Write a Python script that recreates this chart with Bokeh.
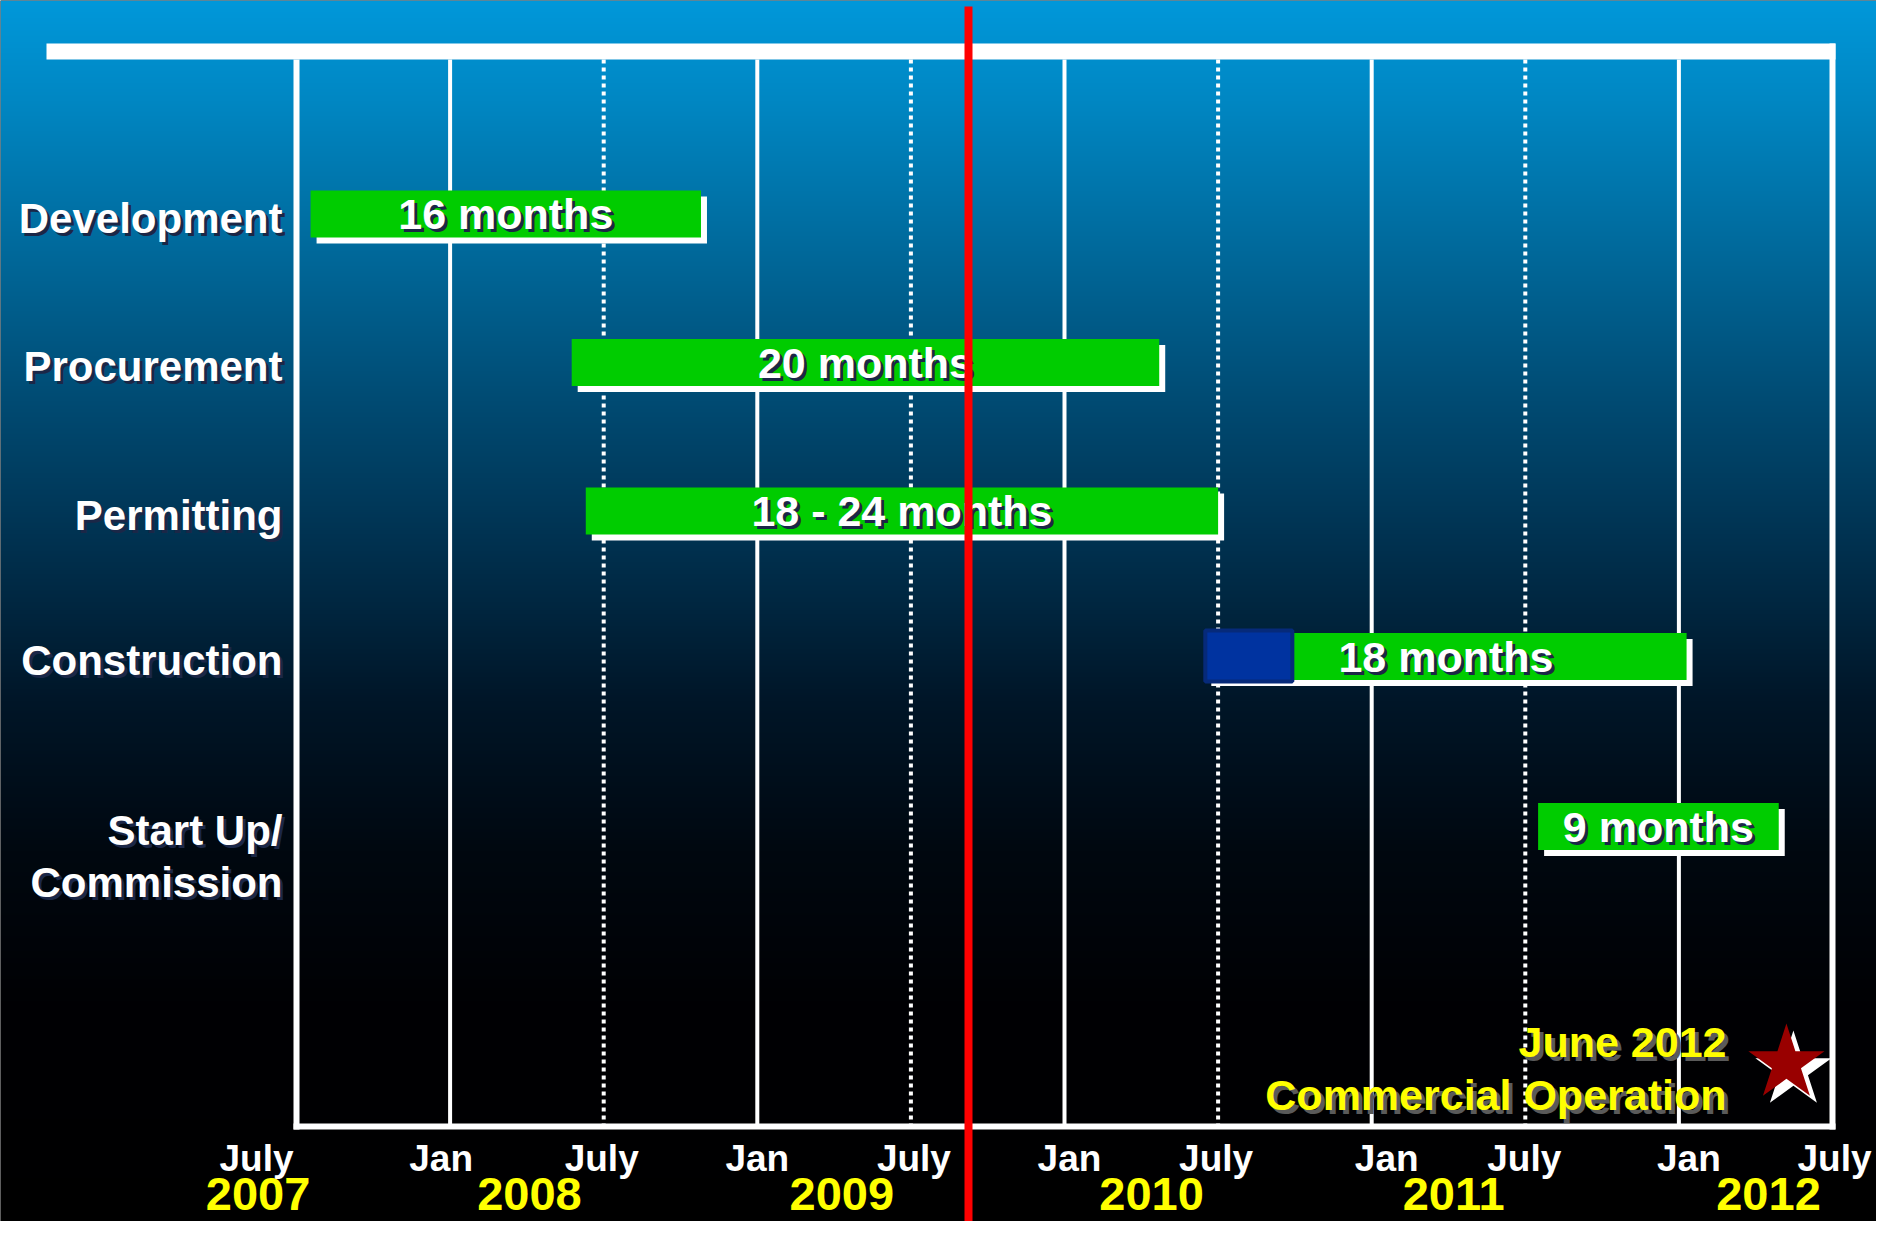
import numpy as np
from bokeh.plotting import figure
from bokeh.models import Range1d, ColumnDataSource
from bokeh.core.properties import value
from bokeh.embed import file_html
from bokeh.resources import INLINE

# ---------------- data (x = months after July 2007) ----------------
tasks = ["Development", "Procurement", "Permitting", "Construction", "Start Up/\nCommission"]
task_start = [0.55, 10.75, 11.3, 35.5, 48.5]
task_end = [15.8, 33.7, 36.0, 54.3, 57.9]
durations = ["16 months", "20 months", "18 - 24 months", "18 months", "9 months"]
prep_start = [35.5]          # construction: blue lead-in block
prep_end = [38.9]
today_month = [26.25]        # red "today" marker
milestone_month = [58.2]     # June 2012 star
milestone_text = ["June 2012", "Commercial Operation"]
tick_months = [0, 6, 12, 18, 24, 30, 36, 42, 48, 54, 60]
tick_labels = ["July", "Jan", "July", "Jan", "July", "Jan", "July", "Jan", "July", "Jan", "July"]
years = ["2007", "2008", "2009", "2010", "2011", "2012"]
year_months = [-1.5, 9.1, 21.3, 33.4, 45.2, 57.5]

# ---------------- layout ----------------
W, H = 1876, 1221
PPM = 25.6            # pixels per month
X0 = 296              # canvas x of month 0
def mx(px):           # canvas px -> months
    return (px - X0) / PPM

row_y = [213.5, 362, 510.5, 656, 826]
bar_h = 47
sh = 6                # shadow offset px
FONT = value("Liberation Sans")

p = figure(width=W, height=H, x_range=Range1d(mx(0), mx(W)), y_range=Range1d(H, 0),
           output_backend="svg", toolbar_location=None, tools="", min_border=0,
           x_axis_location=None, y_axis_location=None, outline_line_color=None,
           background_fill_color="black", border_fill_color="black")
p.grid.visible = False

# background gradient
p.extra_y_ranges = {"bg": Range1d(0, H)}
stops_y = np.array([0, 100, 250, 400, 550, 700, 850, 1000, 1237])
stops_r = [0, 0, 0, 0, 0, 0, 0, 0, 0]
stops_g = [152, 135, 105, 75, 48, 22, 8, 1, 0]
stops_b = [218, 195, 155, 115, 78, 40, 16, 4, 0]
yy = np.arange(H)[::-1]  # row 0 = bottom
img = np.empty((H, 1), dtype=np.uint32)
v = img.view(dtype=np.uint8).reshape((H, 1, 4))
v[:, 0, 0] = np.interp(yy, stops_y, stops_r).astype(np.uint8)
v[:, 0, 1] = np.interp(yy, stops_y, stops_g).astype(np.uint8)
v[:, 0, 2] = np.interp(yy, stops_y, stops_b).astype(np.uint8)
v[:, 0, 3] = 255
p.image_rgba(image=[img], x=mx(0), y=0, dw=mx(W) - mx(0), dh=H, y_range_name="bg")

# frame / grid
top_y0, top_y1 = 43, 59
bot_y = 1126
p.quad(left=[mx(46)], right=[tick_months[-1] + 3 / PPM], top=[top_y0], bottom=[top_y1],
       fill_color="white", line_color=None)
solid = [m for i, m in enumerate(tick_months) if tick_labels[i] == "Jan"]
dotted = [m for i, m in enumerate(tick_months) if tick_labels[i] == "July" and 0 < m < 60]
p.segment(x0=solid, y0=[top_y1] * len(solid), x1=solid, y1=[bot_y] * len(solid),
          line_color="white", line_width=4)
p.segment(x0=dotted, y0=[top_y1] * len(dotted), x1=dotted, y1=[bot_y] * len(dotted),
          line_color="white", line_width=4, line_dash="4 4")
frame = [tick_months[0], tick_months[-1]]
p.segment(x0=frame, y0=[top_y1, top_y0], x1=frame, y1=[bot_y + 3, bot_y + 3],
          line_color="white", line_width=6)
p.segment(x0=[tick_months[0] - 3 / PPM], y0=[bot_y], x1=[tick_months[-1] + 3 / PPM], y1=[bot_y],
          line_color="white", line_width=6)

# bars
ry = np.array(row_y)
src = ColumnDataSource(dict(
    l=task_start, r=task_end, t=ry - bar_h / 2, b=ry + bar_h / 2,
    ls=np.array(task_start) + sh / PPM, rs=np.array(task_end) + sh / PPM,
    ts=ry - bar_h / 2 + sh, bs=ry + bar_h / 2 + sh,
    cx=(np.array(task_start) + np.array(task_end)) / 2, lab=durations,
))
p.quad(left="ls", right="rs", top="ts", bottom="bs", source=src, fill_color="white", line_color=None)
p.quad(left="l", right="r", top="t", bottom="b", source=src, fill_color="#00cc00", line_color=None)
ci = 3
p.quad(left=prep_start, right=prep_end, top=[row_y[ci] - 26], bottom=[row_y[ci] + 25],
       fill_color="#0033a0", line_color="#062a7a", line_width=4)

# bar labels (y = cap centre)
for dx, col in [(3, "#1b2747"), (0, "white")]:
    p.text(x=src.data["cx"], y=ry, text=durations, x_offset=dx, y_offset=dx,
           text_font=FONT, text_font_style="bold", text_font_size="43px",
           text_color=col, text_align="center", text_baseline="alphabetic")

# row labels
lx, ly, lt = [], [], []
for i, t in enumerate(tasks):
    for j, line in enumerate(t.split("\n")):
        lx.append(mx(282))
        ly.append(row_y[i] + 4 + 52 * j)
        lt.append(line)
for dx, col in [(3, "#1b2747"), (0, "white")]:
    p.text(x=lx, y=ly, text=lt, x_offset=dx, y_offset=dx,
           text_font=FONT, text_font_style="bold", text_font_size="42px",
           text_color=col, text_align="right", text_baseline="alphabetic")

# tick labels
tick_dx = [-40, -9, -2, 0, 3, 5, -2, 15, -1, 10, 2]
p.text(x=tick_months, y=[1158] * len(tick_months), text=tick_labels, x_offset=tick_dx,
       text_font=FONT, text_font_style="bold", text_font_size="37px",
       text_color="white", text_align="center", text_baseline="alphabetic")
p.text(x=year_months, y=[1193] * len(years), text=years,
       text_font=FONT, text_font_style="bold", text_font_size="47px",
       text_color="#ffff00", text_align="center", text_baseline="alphabetic")

# today line
p.segment(x0=today_month, y0=[6], x1=today_month, y1=[1222], line_color="#ff0000", line_width=8)

# milestone
sy = 1063
p.scatter(x=[milestone_month[0] + 7 / PPM], y=[sy + 7], marker="star", size=80,
          fill_color="white", line_color=None)
p.scatter(x=milestone_month, y=[sy], marker="star", size=80, fill_color="#990000", line_color=None)
mt_x = [mx(1726)] * 2
mt_y = [1041, 1094]
for dx, col in [(4, "#5a5a5a"), (0, "#ffff00")]:
    p.text(x=mt_x, y=mt_y, text=milestone_text, x_offset=dx, y_offset=dx,
           text_font=FONT, text_font_style="bold", text_font_size="43px",
           text_color=col, text_align="right", text_baseline="alphabetic")

open("out.html", "w").write(file_html(p, INLINE))
